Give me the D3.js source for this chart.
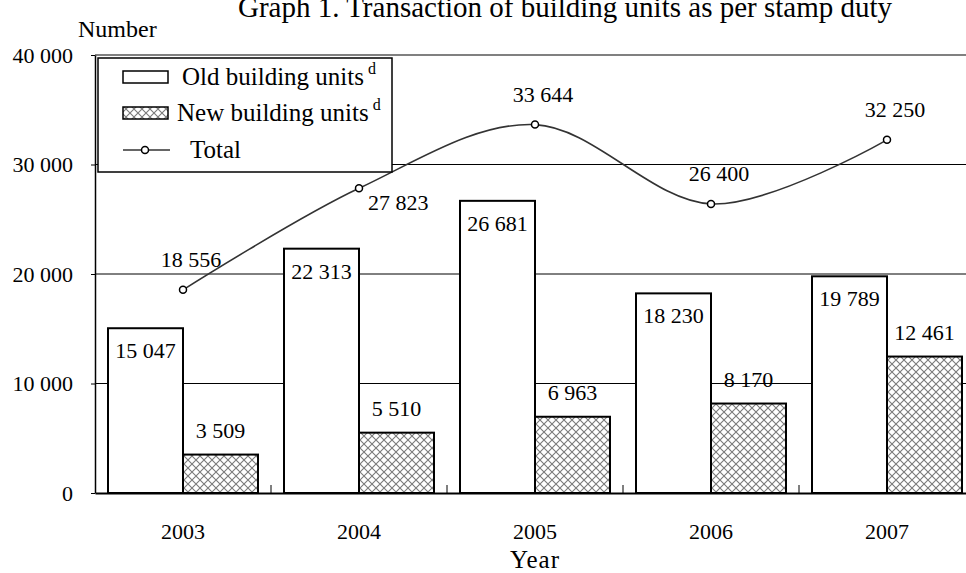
<!DOCTYPE html>
<html>
<head>
<meta charset="utf-8">
<script src="https://cdn.jsdelivr.net/npm/d3@7/dist/d3.min.js"></script>
<style>
  body { margin: 0; background: #fff; }
  svg { display: block; font-family: "Liberation Serif", "Times New Roman", serif; }
</style>
</head>
<body>
<svg id="chart" width="966" height="573"></svg>
<script>
// chart data
const years = ["2003", "2004", "2005", "2006", "2007"];
const oldUnits = [15047, 22313, 26681, 18230, 19789];
const newUnits = [3509, 5510, 6963, 8170, 12461];
const totalUnits = [18556, 27823, 33644, 26400, 32250];
const yTicks = [0, 10000, 20000, 30000, 40000];
const seriesNames = ["Old building units", "New building units", "Total"];
const totalLabelSide = ["above", "below", "above", "above", "above"];

const svg = d3.select("#chart");
const W = 966, H = 573;
const m = { top: 55, right: -9, bottom: 80, left: 95 };   // plot runs a bit past the right edge

svg.append("rect").attr("width", W).attr("height", H).attr("fill", "#fff");

const fmt = d3.formatLocale({ decimal: ".", thousands: " ", grouping: [3], currency: ["", ""] }).format(",d");

const x0 = d3.scaleBand().domain(years).range([m.left, W - m.right]);
const x1 = d3.scaleBand().domain(["old", "new"]).range([13, x0.bandwidth() - 13]);
const y = d3.scaleLinear().domain([0, 40000]).range([H - m.bottom, m.top]);

// hatch pattern for new units
const defs = svg.append("defs");
const pat = defs.append("pattern").attr("id", "hatch")
    .attr("patternUnits", "userSpaceOnUse").attr("width", 8).attr("height", 8);
pat.append("rect").attr("width", 8).attr("height", 8).attr("fill", "#fff");
pat.append("path").attr("d", "M0,0L8,8M8,0L0,8")
    .attr("stroke", "#7a7a7a").attr("stroke-width", 1.1);

// grid
const gridG = svg.append("g");
gridG.selectAll("line")
    .data(yTicks.filter(d => d > 0))
    .join("line")
    .attr("x1", m.left).attr("x2", W - m.right)
    .attr("y1", d => y(d)).attr("y2", d => y(d))
    .attr("stroke", d => d === 40000 ? "#808080" : "#000")
    .attr("stroke-width", d => d === 40000 ? 2 : 1);

// bars
const barData = [];
years.forEach((yr, i) => {
    barData.push({ yr, key: "old", v: oldUnits[i] });
    barData.push({ yr, key: "new", v: newUnits[i] });
});

const barsG = svg.append("g");
barsG.selectAll("rect")
    .data(barData)
    .join("rect")
    .attr("x", d => x0(d.yr) + x1(d.key))
    .attr("y", d => y(d.v))
    .attr("width", x1.bandwidth())
    .attr("height", d => y(0) - y(d.v))
    .attr("fill", d => d.key === "old" ? "#fff" : "url(#hatch)")
    .attr("stroke", "#000").attr("stroke-width", 2);

barsG.selectAll("text")
    .data(barData)
    .join("text")
    .attr("x", d => x0(d.yr) + x1(d.key) + x1.bandwidth() / 2)
    .attr("y", d => d.key === "old" ? y(d.v) + 30 : y(d.v) - 17)
    .attr("text-anchor", "middle")
    .attr("font-size", 22)
    .text(d => fmt(d.v));

// total line
const pts = years.map((yr, i) => ({ x: x0(yr) + x0.bandwidth() / 2, y: y(totalUnits[i]), v: totalUnits[i], side: totalLabelSide[i] }));
const lineGen = d3.line().x(d => d.x).y(d => d.y).curve(d3.curveCardinal.tension(0));

const lineG = svg.append("g");
lineG.append("path")
    .attr("d", lineGen(pts))
    .attr("fill", "none").attr("stroke", "#333").attr("stroke-width", 1.6);
lineG.selectAll("circle")
    .data(pts)
    .join("circle")
    .attr("cx", d => d.x).attr("cy", d => d.y).attr("r", 3.5)
    .attr("fill", "#fff").attr("stroke", "#000").attr("stroke-width", 1.5);
lineG.selectAll("text")
    .data(pts)
    .join("text")
    .attr("x", d => d.side === "below" ? d.x + 9 : d.x + 8)
    .attr("y", d => d.side === "below" ? d.y + 22 : d.y - 23)
    .attr("text-anchor", d => d.side === "below" ? "start" : "middle")
    .attr("font-size", 22)
    .text(d => fmt(d.v));

// axes
const yAxis = svg.append("g")
    .attr("transform", `translate(${m.left},0)`)
    .call(d3.axisLeft(y).tickValues(yTicks).tickFormat(fmt).tickSize(4).tickSizeOuter(0).tickPadding(18));
yAxis.attr("font-family", null);
yAxis.select(".domain").attr("stroke", "#000").attr("stroke-width", 1.5);
yAxis.selectAll(".tick line").attr("stroke", "#000");
yAxis.selectAll(".tick text").attr("font-size", 22).attr("fill", "#000");

const xAxis = svg.append("g")
    .attr("transform", `translate(0,${y(0)})`)
    .call(d3.axisBottom(x0).tickSize(0).tickSizeOuter(0).tickPadding(30));
xAxis.attr("font-family", null);
xAxis.select(".domain").attr("stroke", "#000").attr("stroke-width", 2);
xAxis.selectAll(".tick text").attr("font-size", 22).attr("fill", "#000");

// category separators at band edges, pointing up
const edges = years.map(yr => x0(yr)).concat([x0(years[years.length - 1]) + x0.bandwidth()]);
svg.append("g").selectAll("line")
    .data(edges.slice(1))
    .join("line")
    .attr("x1", d => d).attr("x2", d => d)
    .attr("y1", y(0)).attr("y2", y(0) - 8)
    .attr("stroke", "#000").attr("stroke-width", 1);

// titles (the title is clipped by the top edge, as in the source)
svg.append("text")
    .attr("x", 565).attr("y", 17)
    .attr("text-anchor", "middle").attr("font-size", 29)
    .text("Graph 1. Transaction of building units as per stamp duty");
svg.append("text")
    .attr("x", 78).attr("y", 37)
    .attr("font-size", 24)
    .text("Number");
svg.append("text")
    .attr("x", (m.left + W - m.right) / 2).attr("y", 568)
    .attr("text-anchor", "middle").attr("font-size", 25).attr("letter-spacing", 1)
    .text("Year");

// legend
const lg = svg.append("g").attr("transform", "translate(98,58)");
lg.append("rect").attr("width", 294).attr("height", 114)
    .attr("fill", "#fff").attr("stroke", "#000").attr("stroke-width", 1.5);

const legendRows = [
    { name: seriesNames[0], kind: "old", cy: 19, tx: 84, sup: true },
    { name: seriesNames[1], kind: "new", cy: 55, tx: 79, sup: true },
    { name: seriesNames[2], kind: "line", cy: 92, tx: 92, sup: false }
];
const row = lg.selectAll("g.row").data(legendRows).join("g").attr("class", "row")
    .attr("transform", d => `translate(0,${d.cy})`);
row.filter(d => d.kind !== "line").append("rect")
    .attr("x", 25).attr("y", -6).attr("width", 45).attr("height", 12)
    .attr("fill", d => d.kind === "old" ? "#fff" : "url(#hatch)")
    .attr("stroke", "#000").attr("stroke-width", 1.5);
row.filter(d => d.kind === "line").append("line")
    .attr("x1", 25).attr("x2", 72).attr("stroke", "#333").attr("stroke-width", 1.6);
row.filter(d => d.kind === "line").append("circle")
    .attr("cx", 47).attr("r", 3.5).attr("fill", "#fff").attr("stroke", "#000").attr("stroke-width", 1.5);
const lt = row.append("text")
    .attr("x", d => d.tx).attr("y", 8)
    .attr("font-size", 25);
lt.append("tspan").text(d => d.name);
lt.filter(d => d.sup).append("tspan")
    .attr("dx", 4).attr("dy", -11).attr("font-size", 16).text("d");
</script>
</body>
</html>
